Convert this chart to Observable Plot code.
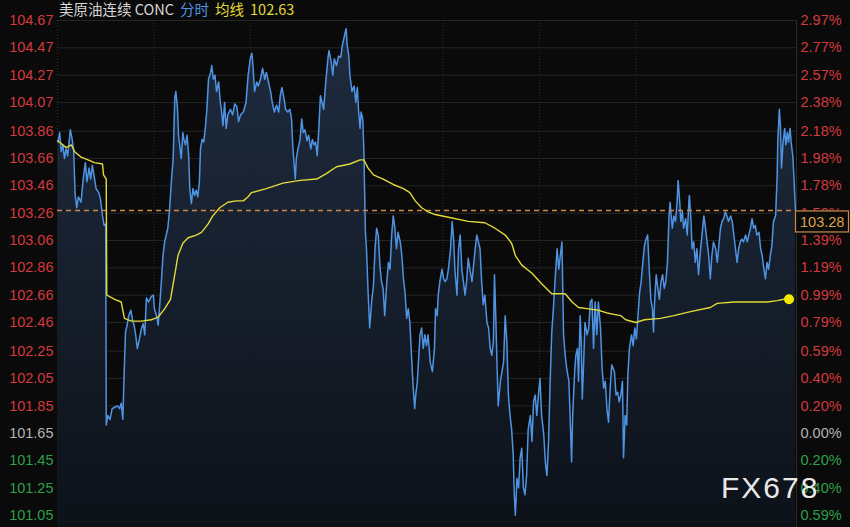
<!DOCTYPE html>
<html><head><meta charset="utf-8">
<script src="https://cdn.jsdelivr.net/npm/d3@7"></script>
<script src="https://cdn.jsdelivr.net/npm/@observablehq/plot@0.6"></script>
<style>
html,body{margin:0;padding:0;background:#0a0a0a;}
#wrap{position:relative;width:850px;height:527px;overflow:hidden;}
#title{position:absolute;left:59px;top:0px;font-family:"Noto Sans CJK SC","Noto Sans",sans-serif;font-size:14.5px;line-height:17px;white-space:pre;}
#title span{margin-right:6px;}
#wm{position:absolute;left:721px;top:470px;font-family:"Liberation Sans",Arial,sans-serif;font-size:30px;letter-spacing:2px;color:rgba(255,255,255,0.93);line-height:36px;}
</style></head><body>
<div id="wrap"><div id="chart"></div><div id="title"></div><div id="wm"></div></div>
<script>
const titleParts = ["美原油连续 CONC", "分时", "均线", "102.63"];
const watermark = "FX678";
const prevClose = 101.65;
const lastPrice = 103.28;
const leftTicks = [104.67,104.47,104.27,104.07,103.86,103.66,103.46,103.26,103.06,102.86,102.66,102.46,102.25,102.05,101.85,101.65,101.45,101.25,101.05];
const rightTickLabels = ["2.97%","2.77%","2.57%","2.38%","2.18%","1.98%","1.78%","1.59%","1.39%","1.19%","0.99%","0.79%","0.59%","0.40%","0.20%","0.00%","0.20%","0.40%","0.59%"];
const timeGrid = [0,180,360,540,720,900,1080];
const dayEnd = 1380;

const priceTime = [1,4,7,10,13,16,19,24,27,30,33,36,39,44,48,52,55,59,62,65,68,72,77,80,84,87,90,91,94,98,102,107,112,116,119,122,124,127,130,133,137,140,143,146,149,153,157,160,163,166,170,175,179,181,185,188,191,194,197,200,203,206,209,213,216,219,221,224,226,229,231,234,236,239,242,245,247,250,253,256,259,262,265,267,270,273,276,279,282,286,288,291,294,297,301,304,306,309,312,315,318,323,327,331,335,338,342,347,352,356,360,363,365,368,372,375,379,383,387,390,394,398,401,405,409,413,416,419,423,426,430,434,437,439,441,444,446,449,453,456,459,462,466,469,473,476,479,482,485,488,491,494,497,501,505,507,511,514,517,521,525,529,532,536,539,541,544,546,550,554,557,560,562,565,567,570,572,575,577,580,583,587,590,593,596,599,602,605,608,611,615,618,621,624,627,630,633,636,640,643,646,649,652,655,658,661,664,667,669,672,674,677,680,683,686,689,692,696,700,704,706,709,711,714,718,721,724,727,730,734,737,740,742,746,749,752,755,758,761,764,767,770,774,777,780,783,786,789,792,795,798,802,805,808,811,814,816,818,821,823,827,830,833,836,839,842,845,848,851,853,855,858,861,864,867,870,873,876,879,883,886,889,892,895,898,901,904,908,911,914,917,920,923,926,929,933,936,939,942,945,948,951,955,958,960,962,966,968,971,973,976,978,980,983,985,989,992,995,998,1001,1004,1007,1010,1014,1017,1020,1023,1026,1029,1032,1035,1040,1043,1046,1049,1052,1055,1057,1060,1063,1065,1068,1072,1075,1078,1081,1084,1087,1090,1093,1096,1099,1102,1105,1108,1111,1113,1115,1118,1121,1124,1127,1130,1133,1136,1139,1142,1144,1148,1151,1154,1157,1159,1162,1164,1167,1169,1173,1176,1179,1180,1183,1185,1188,1191,1194,1197,1201,1204,1207,1210,1213,1216,1219,1222,1225,1229,1232,1235,1238,1241,1244,1247,1250,1253,1257,1260,1263,1266,1269,1272,1275,1278,1281,1285,1288,1291,1294,1297,1300,1303,1306,1310,1313,1316,1319,1322,1325,1328,1331,1334,1337,1341,1344,1345,1348,1350,1352,1355,1358,1360,1363,1365,1368,1370,1373,1375,1378];
const priceValue = [103.78,103.85,103.71,103.76,103.66,103.73,103.68,103.87,103.81,103.73,103.39,103.30,103.38,103.34,103.51,103.63,103.49,103.59,103.51,103.61,103.54,103.44,103.41,103.37,103.24,103.17,103.18,101.71,101.78,101.75,101.83,101.84,101.85,101.83,101.87,101.75,102.03,102.39,102.44,102.51,102.55,102.48,102.44,102.37,102.27,102.34,102.42,102.45,102.37,102.64,102.61,102.65,102.66,102.56,102.51,102.44,102.59,102.76,102.95,103.05,103.10,103.15,103.27,103.51,103.66,104.10,104.15,104.03,103.83,103.73,103.66,103.85,103.80,103.76,103.83,103.68,103.44,103.33,103.44,103.39,103.43,103.38,103.49,103.73,103.80,103.78,103.88,104.02,104.24,104.29,104.34,104.24,104.27,104.15,104.22,104.07,104.02,103.90,104.07,103.88,103.98,104.02,103.98,104.06,104.04,103.93,103.98,104.00,104.07,104.27,104.39,104.43,104.34,104.15,104.22,104.19,104.24,104.32,104.24,104.29,104.22,104.15,104.07,104.00,104.05,104.00,104.12,104.18,104.10,104.02,104.00,104.02,103.95,103.78,103.66,103.51,103.66,103.73,103.80,103.95,103.85,103.87,103.79,103.83,103.73,103.80,103.76,103.78,103.68,103.88,104.12,104.07,104.02,104.22,104.39,104.45,104.37,104.27,104.39,104.34,104.41,104.40,104.49,104.56,104.61,104.49,104.41,104.27,104.15,104.19,104.07,104.18,104.02,103.88,104.00,103.95,103.73,103.12,103.00,102.68,102.42,102.63,102.73,103.00,103.15,103.10,102.88,102.76,102.71,102.51,102.76,102.90,102.85,103.10,103.24,103.15,103.00,103.12,103.05,102.95,102.78,102.68,102.49,102.56,102.46,102.22,102.00,101.83,101.93,102.03,102.17,102.37,102.42,102.27,102.37,102.29,102.37,102.17,102.10,102.27,102.56,102.51,102.66,102.76,102.85,102.78,102.76,102.78,102.85,103.00,103.20,103.05,102.85,102.66,103.00,103.10,102.85,102.76,102.66,102.76,102.93,102.85,102.76,102.88,103.00,103.10,103.05,103.00,102.76,102.59,102.66,102.46,102.42,102.27,102.22,102.32,102.81,102.56,102.12,101.85,102.03,102.10,102.17,102.51,102.32,101.93,101.78,101.68,101.49,101.20,101.05,101.32,101.25,101.47,101.54,101.25,101.20,101.34,101.68,101.78,101.59,101.88,101.93,101.78,101.93,102.05,101.78,101.64,101.44,101.34,101.59,102.03,102.39,102.56,102.76,103.00,102.85,102.95,103.05,102.37,102.22,102.12,102.03,101.68,101.44,101.78,102.12,102.22,102.27,102.03,102.51,102.32,101.90,102.22,102.46,102.37,102.42,102.61,102.63,102.27,102.61,102.37,102.61,102.42,102.12,101.98,102.03,101.83,101.73,101.98,102.15,102.10,101.93,101.95,101.88,101.93,102.03,101.47,101.78,101.71,102.07,102.27,102.37,102.29,102.42,102.34,102.51,102.68,102.76,102.90,103.02,103.07,103.10,102.85,102.63,102.56,102.39,102.61,102.81,102.71,102.63,102.76,102.81,102.71,102.76,102.90,103.24,103.34,103.15,103.24,103.20,103.34,103.50,103.34,103.20,103.27,103.15,103.22,103.10,103.34,103.39,103.20,103.00,103.05,102.90,103.00,102.81,103.00,103.12,103.24,103.15,103.05,102.95,102.78,102.95,103.05,103.00,102.90,103.02,103.15,103.20,103.22,103.27,103.24,103.20,103.24,103.20,103.10,103.00,102.90,103.00,103.05,103.07,103.05,103.10,103.05,103.10,103.15,103.22,103.15,103.17,103.10,103.12,103.00,102.95,102.85,102.78,102.90,102.85,102.95,103.02,103.20,103.24,103.54,103.78,104.02,103.90,103.59,103.78,103.88,103.76,103.85,103.78,103.88,103.78,103.68,103.54,103.28];

const avgTime = [0,7,16,26,32,44,57,69,84,86,91,92,107,119,125,138,157,175,188,200,211,219,225,234,244,259,269,281,290,303,318,334,347,356,362,390,421,453,484,502,521,546,565,572,580,590,608,627,646,658,668,680,692,705,730,767,798,817,836,848,855,867,886,905,923,936,948,961,973,992,1010,1026,1039,1052,1061,1080,1096,1126,1151,1182,1219,1232,1263,1294,1325,1344,1356,1366];
const avgValue = [103.79,103.77,103.74,103.76,103.71,103.67,103.65,103.63,103.62,103.54,103.51,102.66,102.63,102.61,102.49,102.47,102.47,102.48,102.50,102.56,102.63,102.81,102.95,103.04,103.08,103.10,103.12,103.18,103.24,103.30,103.34,103.35,103.35,103.38,103.41,103.44,103.48,103.50,103.51,103.55,103.60,103.62,103.65,103.65,103.59,103.54,103.51,103.47,103.44,103.41,103.35,103.30,103.27,103.25,103.23,103.20,103.19,103.15,103.10,103.04,102.95,102.88,102.82,102.74,102.67,102.67,102.67,102.61,102.57,102.56,102.55,102.53,102.52,102.51,102.48,102.46,102.48,102.49,102.51,102.54,102.57,102.60,102.61,102.61,102.61,102.62,102.63,102.63];

const price = priceTime.map((t, i) => ({t, p: priceValue[i]}));
const avg = avgTime.map((t, i) => ({t, p: avgValue[i]}));
const ticks = leftTicks.map((v, i) => ({v, left: v.toFixed(2), right: rightTickLabels[i]}));
const yTop = leftTicks[0];
const yBottom = 100.96;
const colorOf = v => Math.abs(v - prevClose) < 1e-6 ? "#b4b4b4" : (v > prevClose ? "#d4393e" : "#2f9f49");

const chart = Plot.plot({
  width: 850, height: 527,
  marginLeft: 57, marginRight: 54, marginTop: 20, marginBottom: 0,
  style: {background: "#0a0a0a", fontFamily: "'Liberation Sans', Arial, sans-serif", fontSize: "14.5px", overflow: "visible"},
  x: {domain: [0, dayEnd], axis: null},
  y: {domain: [yBottom, yTop], axis: null},
  color: {type: "identity"},
  marks: [
    Plot.ruleY(ticks, {y: "v", stroke: "#252525", strokeWidth: 1}),
    Plot.ruleX(timeGrid, {stroke: "#2e2e2e", strokeDasharray: "1,2"}),
    Plot.ruleX([dayEnd], {stroke: "#2c2c2c"}),
    Plot.areaY(price, {x: "t", y1: yBottom, y2: "p", fill: "url(#areaGrad)"}),
    Plot.lineY(price, {x: "t", y: "p", stroke: "#4f93e3", strokeWidth: 1.5}),
    Plot.ruleY([lastPrice], {stroke: "#c98a4c", strokeDasharray: "5,4", strokeWidth: 1.5}),
    Plot.lineY(avg, {x: "t", y: "p", stroke: "#e2da38", strokeWidth: 1.4}),
    Plot.dot(avg.slice(-1), {x: "t", y: "p", r: 5, fill: "#f5e900", stroke: "none"}),
    Plot.text(ticks, {y: "v", text: "left", frameAnchor: "left", textAnchor: "end", dx: -4, fill: d => colorOf(d.v)}),
    Plot.text(ticks, {y: "v", text: "right", frameAnchor: "right", textAnchor: "start", dx: 4, fill: d => colorOf(d.v)})
  ]
});

const svg = d3.select(chart);
const defs = svg.insert("defs", ":first-child");
const grad = defs.append("linearGradient").attr("id", "areaGrad").attr("gradientUnits", "userSpaceOnUse")
  .attr("x1", 0).attr("y1", 20).attr("x2", 0).attr("y2", 527);
grad.append("stop").attr("offset", 0).attr("stop-color", "#1f2c40");
grad.append("stop").attr("offset", 1).attr("stop-color", "#0d1219");

// last price label box
const yPix = chart.scale("y").apply(lastPrice);
const xRight = 850 - 54;
svg.append("rect").attr("x", xRight - 0.5).attr("y", yPix + 1).attr("width", 53).attr("height", 21)
  .attr("fill", "#0a0a0a").attr("stroke", "#c98a4c").attr("stroke-width", 1.2);
svg.append("text").attr("x", xRight + 4).attr("y", yPix + 11.5).attr("dy", "0.35em")
  .attr("text-anchor", "start")
  .attr("fill", "#dca24e").attr("font-size", "14.5px").text(lastPrice.toFixed(2));

document.getElementById("chart").appendChild(chart);

const colors = ["#d6d6d6", "#4f93e3", "#e2da38", "#e2da38"];
const t = document.getElementById("title");
titleParts.forEach((s, i) => {
  const sp = document.createElement("span");
  sp.textContent = s; sp.style.color = colors[i];
  t.appendChild(sp);
});
document.getElementById("wm").textContent = watermark;
</script>
</body></html>
